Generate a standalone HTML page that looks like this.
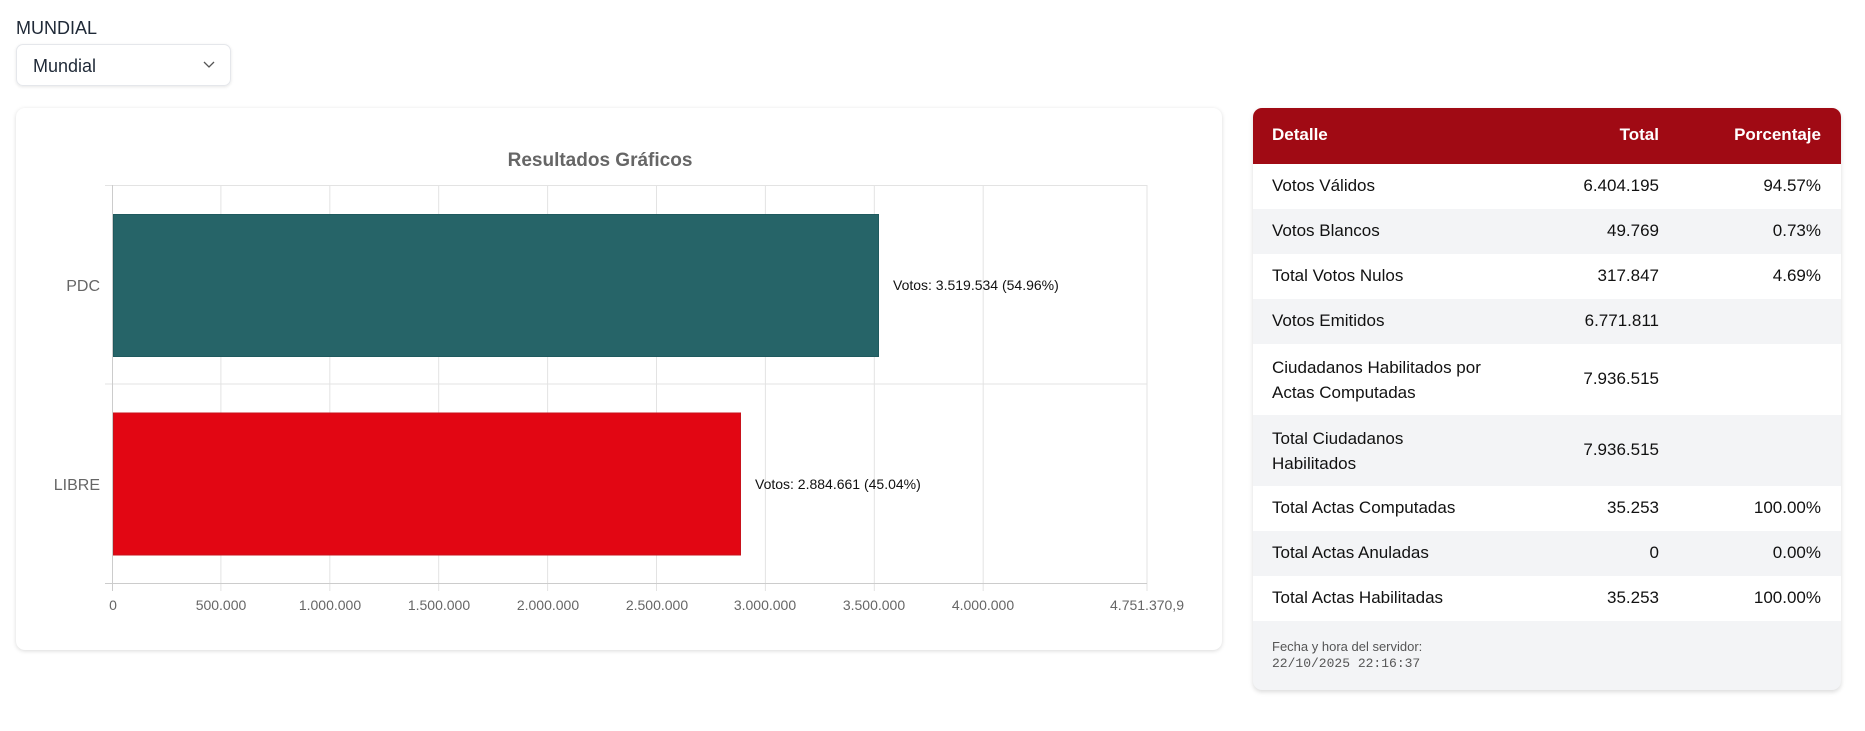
<!DOCTYPE html>
<html><head><meta charset="utf-8"><style>
body{margin:0;width:1865px;height:731px;background:#fff;font-family:"Liberation Sans",sans-serif;position:relative;overflow:hidden}
.lab{position:absolute;left:16px;top:18px;font-size:18px;color:#1f2937}
.dd{position:absolute;left:16px;top:44px;width:215px;height:42px;border:1px solid #e5e7eb;border-radius:7px;box-shadow:0 1px 3px rgba(0,0,0,.1);box-sizing:border-box}
.dd span{position:absolute;left:16px;top:11px;font-size:18px;color:#1f2937}
.card{position:absolute;left:16px;top:108px;width:1206px;height:542px;border-radius:9px;box-shadow:0 1px 4px rgba(0,0,0,.15);background:#fff}
.tbl{position:absolute;left:1253px;top:108px;width:588px;height:582px;border-radius:9px;overflow:hidden;box-shadow:0 2px 5px rgba(0,0,0,.15);background:#f3f4f6}
.row{position:absolute;left:0;width:588px;font-size:17px;color:#111}
.row div{position:absolute}
.c1{left:19px}.c2{right:182px;text-align:right}.c3{right:20px;text-align:right}
</style></head><body>
<div class="lab">MUNDIAL</div>
<div class="dd"><span>Mundial</span><svg style="position:absolute;left:186px;top:16px" width="12" height="8"><polyline points="1,1 6,6 11,1" fill="none" stroke="#555" stroke-width="1.3"/></svg></div>
<div class="card"></div>
<svg style="position:absolute;left:0;top:0" width="1240" height="660" font-family="Liberation Sans, sans-serif">
<text x="600" y="166" text-anchor="middle" font-size="19" font-weight="bold" fill="#666">Resultados Gráficos</text>
<g stroke="#e3e3e3" stroke-width="1">
<line x1="220.9" y1="185" x2="220.9" y2="591"/><line x1="329.8" y1="185" x2="329.8" y2="591"/><line x1="438.7" y1="185" x2="438.7" y2="591"/><line x1="547.6" y1="185" x2="547.6" y2="591"/><line x1="656.5" y1="185" x2="656.5" y2="591"/><line x1="765.4" y1="185" x2="765.4" y2="591"/><line x1="874.3" y1="185" x2="874.3" y2="591"/><line x1="983.2" y1="185" x2="983.2" y2="591"/><line x1="1147" y1="185" x2="1147" y2="591"/>
<line x1="105" y1="185.5" x2="1147" y2="185.5"/><line x1="105" y1="384" x2="1147" y2="384"/>
</g>
<line x1="105" y1="583.5" x2="1147" y2="583.5" stroke="#ccc"/>
<line x1="112.5" y1="185" x2="112.5" y2="591" stroke="#ccc"/>
<rect x="113.5" y="214.5" width="765" height="142" fill="#266468" stroke="#1f5a5e"/>
<rect x="113.5" y="413" width="627" height="142" fill="#e20613" stroke="#c8121b"/>
<g font-size="14" fill="#111"><text x="893" y="290">Votos: 3.519.534 (54.96%)</text><text x="755" y="489">Votos: 2.884.661 (45.04%)</text></g>
<g font-size="16" fill="#666" text-anchor="end"><text x="100" y="291">PDC</text><text x="100" y="490">LIBRE</text></g>
<g font-size="14" fill="#666" text-anchor="middle"><text x="113" y="610">0</text><text x="221" y="610">500.000</text><text x="330" y="610">1.000.000</text><text x="439" y="610">1.500.000</text><text x="548" y="610">2.000.000</text><text x="657" y="610">2.500.000</text><text x="765" y="610">3.000.000</text><text x="874" y="610">3.500.000</text><text x="983" y="610">4.000.000</text><text x="1147" y="610">4.751.370,9</text></g>
</svg>
<div class="tbl">
<div class="row" style="top:0;height:56px;background:#a00a14;color:#fff;font-weight:bold"><div class="c1" style="top:17px">Detalle</div><div class="c2" style="top:17px">Total</div><div class="c3" style="top:17px">Porcentaje</div></div>
<div class="row" style="top:56px;height:45px;background:#fff"><div class="c1" style="top:12px">Votos Válidos</div><div class="c2" style="top:12px">6.404.195</div><div class="c3" style="top:12px">94.57%</div></div>
<div class="row" style="top:101px;height:45px;background:#f3f4f6"><div class="c1" style="top:12px">Votos Blancos</div><div class="c2" style="top:12px">49.769</div><div class="c3" style="top:12px">0.73%</div></div>
<div class="row" style="top:146px;height:45px;background:#fff"><div class="c1" style="top:12px">Total Votos Nulos</div><div class="c2" style="top:12px">317.847</div><div class="c3" style="top:12px">4.69%</div></div>
<div class="row" style="top:191px;height:45px;background:#f3f4f6"><div class="c1" style="top:12px">Votos Emitidos</div><div class="c2" style="top:12px">6.771.811</div></div>
<div class="row" style="top:236px;height:71px;background:#fff"><div class="c1" style="top:11px;line-height:25px">Ciudadanos Habilitados por<br>Actas Computadas</div><div class="c2" style="top:25px">7.936.515</div></div>
<div class="row" style="top:307px;height:71px;background:#f3f4f6"><div class="c1" style="top:11px;line-height:25px">Total Ciudadanos<br>Habilitados</div><div class="c2" style="top:25px">7.936.515</div></div>
<div class="row" style="top:378px;height:45px;background:#fff"><div class="c1" style="top:12px">Total Actas Computadas</div><div class="c2" style="top:12px">35.253</div><div class="c3" style="top:12px">100.00%</div></div>
<div class="row" style="top:423px;height:45px;background:#f3f4f6"><div class="c1" style="top:12px">Total Actas Anuladas</div><div class="c2" style="top:12px">0</div><div class="c3" style="top:12px">0.00%</div></div>
<div class="row" style="top:468px;height:45px;background:#fff"><div class="c1" style="top:12px">Total Actas Habilitadas</div><div class="c2" style="top:12px">35.253</div><div class="c3" style="top:12px">100.00%</div></div>
<div style="position:absolute;left:19px;top:531px;font-size:13px;color:#555">Fecha y hora del servidor:</div>
<div style="position:absolute;left:19px;top:548px;font-size:13px;color:#555;font-family:'Liberation Mono',monospace">22/10/2025 22:16:37</div>
</div>
</body></html>
